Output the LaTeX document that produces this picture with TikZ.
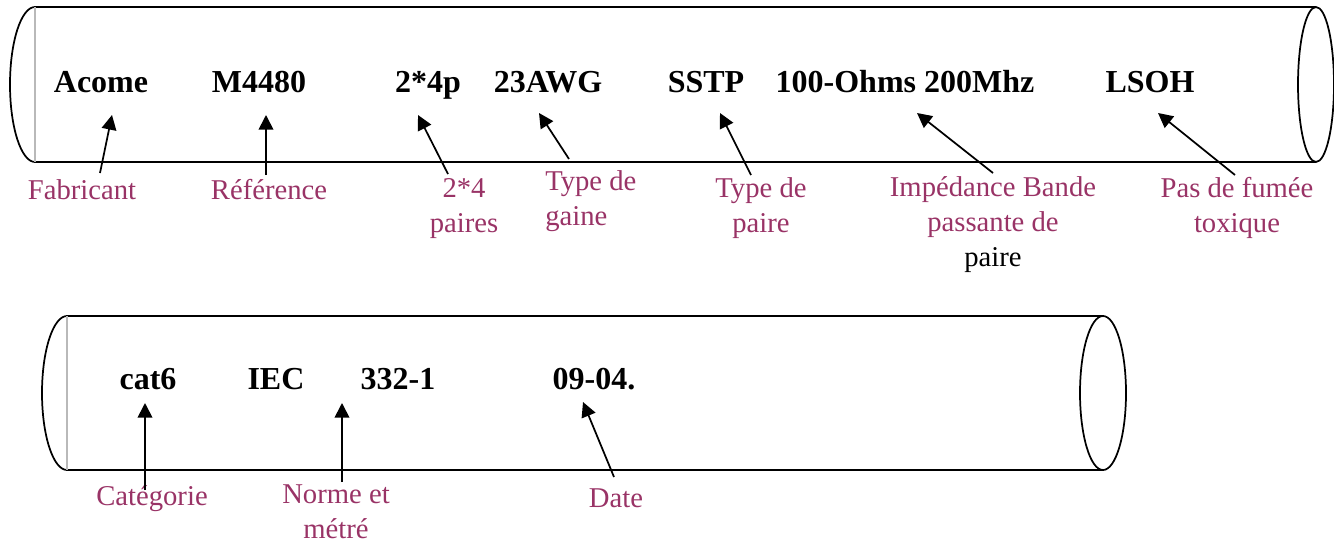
\documentclass[tikz,border=0pt]{standalone}
\usepackage{fontspec}
\setmainfont{Liberation Serif}
\usetikzlibrary{arrows.meta}
\definecolor{labcol}{RGB}{153,51,102}

\begin{document}
\begin{tikzpicture}[
x=0.75pt,
y=-0.75pt,
code/.style={
  font=\fontsize{24}{28}\selectfont\bfseries,
  anchor=base,
  inner sep=0pt
  },
lab/.style={
  text=labcol,
  font=\fontsize{21.5}{26}\selectfont,
  align=center,
  anchor=base,
  inner sep=0pt
  },
pipe/.style={line width=1.3pt},
rim/.style={draw=gray!55, line width=1.3pt},
arr/.style={-{Triangle[length=11pt,width=11pt]}, line width=1.3pt}
]
\useasboundingbox (0,0) rectangle (1334,542);

% first cable
\draw[pipe] (35,7) -- (1316,7);
\draw[pipe] (35,162) -- (1316,162);
\draw[pipe] (35,7) arc[start angle=270, end angle=90, x radius=25, y radius=77.5];
\draw[rim] (35,7) -- (35,162);
\draw[pipe] (1316,84.5) ellipse[x radius=18, y radius=77.5];

% second cable
\draw[pipe] (67,316) -- (1103,316);
\draw[pipe] (67,470) -- (1103,470);
\draw[pipe] (67,316) arc[start angle=270, end angle=90, x radius=25, y radius=77];
\draw[rim] (67,316) -- (67,470);
\draw[pipe] (1103,393) ellipse[x radius=23, y radius=77];

% printed marking
\node[code] (acome) at (101,93) {Acome};
\node[code] (m4480) at (259,93) {M4480};
\node[code] (pairs) at (428,93) {2*4p};
\node[code] (awg) at (548,93) {23AWG};
\node[code] (sstp) at (706,93) {SSTP};
\node[code] (ohms) at (905,93) {100-Ohms 200Mhz};
\node[code] (lsoh) at (1150,93) {LSOH};
\node[code] (cat) at (148,389) {cat6};
\node[code] (iec) at (276,389) {IEC};
\node[code] (norme) at (398,389) {332-1};
\node[code] (date) at (594,389) {09-04.};

% labels (base = last line)
\node[lab] (fab) at (82,199) {Fabricant};
\node[lab] (ref) at (269,199) {Référence};
\node[lab] (paires) at (464,232) {2*4\\paires};
\node[lab, align=left, anchor=base west] (gaine) at (545,225) {Type de\\gaine};
\node[lab] (tpaire) at (761,232) {Type de\\paire};
\node[lab] (imp) at (993,266) {Impédance Bande\\passante de\\{\color{black}paire}};
\node[lab] (fumee) at (1237,232) {Pas de fumée\\toxique};
\node[lab] (categ) at (152,505) {Catégorie};
\node[lab] (normet) at (336,538) {Norme et\\métré};
\node[lab] (datel) at (616,507) {Date};

% arrows
\foreach \n/\x/\y in {fab-s/100/173, fab-t/112/115,
  ref-s/266/175, ref-t/266/115,
  paires-s/448/174, paires-t/418/115,
  gaine-s/569/159, gaine-t/539/113,
  tpaire-s/751/175, tpaire-t/720/113,
  imp-s/993/173, imp-t/917/113,
  fumee-s/1235/175, fumee-t/1158/113,
  categ-s/145/490, categ-t/145/403,
  normet-s/342/482, normet-t/342/403,
  datel-s/614/477, datel-t/583/402}
  \coordinate (\n) at (\x,\y);
\foreach \a in {fab,ref,paires,gaine,tpaire,imp,fumee,categ,normet,datel}
  \draw[arr] (\a-s) -- (\a-t);
\end{tikzpicture}
\end{document}
